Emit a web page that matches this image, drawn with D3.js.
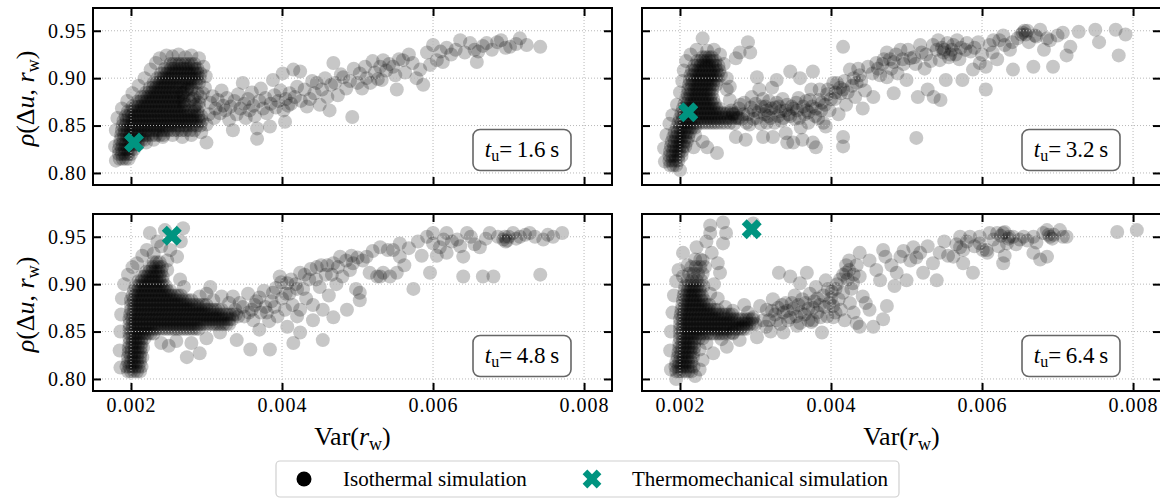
<!DOCTYPE html>
<html lang="en">
<head>
<meta charset="utf-8">
<title>Correlation vs variance</title>
<script src="https://d3js.org/d3.v7.min.js"></script>
<style>
  body { margin: 0; background: #fff; }
  svg { display: block; }
  svg text { font-family: "Liberation Serif", "Times New Roman", serif; }
</style>
</head>
<body>
<script>
const xTicks = [2, 4, 6, 8];
const yTicks = [0.80, 0.85, 0.90, 0.95];
const tuLabels = ["1.6", "3.2", "4.8", "6.4"];

// thermomechanical simulation, one point per panel
const thermoVar = [2.04, 2.11, 2.54, 2.95];
const thermoRho = [0.832, 0.864, 0.951, 0.958];

// isothermal runs, dense cores read as rows [rho, [Var...]]
// t_u = 1.6 s
const denseA = [
  [.815, [1.85, 1.89, 1.93, 1.97]],
  [.820, [1.84, 1.88, 1.92, 1.96, 2.0]],
  [.825, [1.84, 1.88, 1.92, 1.96, 2.0, 2.04]],
  [.830, [1.85, 1.89, 1.93, 1.97, 2.01, 2.05, 2.09]],
  [.835, [1.86, 1.9, 1.94, 1.98, 2.02, 2.06, 2.1, 2.14, 2.18]],
  [.840, [1.87, 1.91, 1.95, 1.99, 2.03, 2.07, 2.11, 2.15, 2.19, 2.23, 2.28, 2.33, 2.38, 2.43]],
  [.845, [1.88, 1.92, 1.96, 2.0, 2.04, 2.08, 2.12, 2.16, 2.2, 2.24, 2.28, 2.32, 2.36, 2.4, 2.44, 2.48, 2.52, 2.57, 2.62, 2.67, 2.72, 2.78, 2.84]],
  [.850, [1.89, 1.93, 1.97, 2.01, 2.05, 2.09, 2.13, 2.17, 2.21, 2.25, 2.29, 2.33, 2.37, 2.41, 2.45, 2.49, 2.53, 2.57, 2.61, 2.65, 2.69, 2.73, 2.77, 2.82, 2.87, 2.92]],
  [.855, [1.9, 1.94, 1.98, 2.02, 2.06, 2.1, 2.14, 2.18, 2.22, 2.26, 2.3, 2.34, 2.38, 2.42, 2.46, 2.5, 2.54, 2.58, 2.62, 2.66, 2.7, 2.74, 2.78, 2.82, 2.86, 2.9, 2.94]],
  [.860, [1.93, 1.97, 2.01, 2.05, 2.09, 2.13, 2.17, 2.21, 2.25, 2.29, 2.33, 2.37, 2.41, 2.45, 2.49, 2.53, 2.57, 2.61, 2.65, 2.69, 2.73, 2.77, 2.81, 2.85, 2.89, 2.93]],
  [.865, [1.96, 2.0, 2.04, 2.08, 2.12, 2.16, 2.2, 2.24, 2.28, 2.32, 2.36, 2.4, 2.44, 2.48, 2.52, 2.56, 2.6, 2.64, 2.68, 2.72, 2.76, 2.8, 2.84, 2.88]],
  [.870, [2.02, 2.06, 2.1, 2.14, 2.18, 2.22, 2.26, 2.3, 2.34, 2.38, 2.42, 2.46, 2.5, 2.54, 2.58, 2.62, 2.66, 2.7, 2.84, 2.9]],
  [.875, [2.08, 2.12, 2.16, 2.2, 2.24, 2.28, 2.32, 2.36, 2.4, 2.44, 2.48, 2.52, 2.56, 2.6, 2.64, 2.68]],
  [.880, [2.14, 2.18, 2.22, 2.26, 2.3, 2.34, 2.38, 2.42, 2.46, 2.5, 2.54, 2.58, 2.62, 2.66, 2.7]],
  [.885, [2.2, 2.24, 2.28, 2.32, 2.36, 2.4, 2.44, 2.48, 2.52, 2.56, 2.6, 2.65, 2.7]],
  [.890, [2.25, 2.29, 2.33, 2.37, 2.41, 2.45, 2.49, 2.53, 2.57, 2.61, 2.65, 2.7, 2.75, 2.8]],
  [.895, [2.3, 2.34, 2.38, 2.42, 2.46, 2.5, 2.54, 2.58, 2.62, 2.66, 2.7, 2.74, 2.78, 2.82, 2.86, 2.9]],
  [.900, [2.35, 2.39, 2.43, 2.47, 2.51, 2.55, 2.59, 2.63, 2.67, 2.71, 2.75, 2.79, 2.83, 2.87, 2.91]],
  [.905, [2.4, 2.44, 2.48, 2.52, 2.56, 2.6, 2.64, 2.68, 2.72, 2.76, 2.8, 2.84, 2.88, 2.92]],
  [.910, [2.45, 2.49, 2.53, 2.57, 2.61, 2.65, 2.69, 2.73, 2.77, 2.81, 2.85, 2.88]],
  [.915, [2.52, 2.56, 2.6, 2.64, 2.68, 2.72, 2.76, 2.8, 2.84]]
];
const looseA = [
  [1.8, .813], [1.79, .828], [1.8, .845], [1.82, .858], [1.88, .868], [1.95, .876], [2.02, .884], [2.1, .892],
  [2.18, .9], [2.26, .909], [2.33, .916], [2.38, .921], [2.47, .924], [2.55, .923], [2.63, .925], [2.72, .922],
  [2.8, .924], [2.9, .921], [2.96, .912], [2.99, .902], [2.98, .89], [2.2, .832], [2.3, .835], [2.42, .838],
  [2.55, .84], [2.68, .838], [2.8, .84], [2.93, .843], [3.0, .851],
  [2.7, .876], [2.76, .882], [2.82, .878], [2.88, .884], [2.74, .888], [2.86, .872], [2.92, .88], [2.68, .884],
  [2.78, .876], [2.84, .88], [2.9, .874], [2.8, .888], [2.72, .872], [2.95, .884],
  [3.0, .832], [3.03, .862], [3.05, .874], [3.08, .881], [3.1, .858], [3.12, .868], [3.15, .877], [3.18, .863],
  [3.2, .887], [3.22, .871], [3.25, .866], [3.27, .879], [3.3, .856], [3.32, .87], [3.35, .845], [3.37, .876],
  [3.4, .862], [3.42, .883], [3.45, .868], [3.48, .895], [3.5, .873], [3.52, .858], [3.55, .878], [3.57, .866],
  [3.6, .885], [3.62, .871], [3.64, .86], [3.67, .847], [3.67, .836], [3.7, .876], [3.72, .889], [3.75, .868],
  [3.78, .879], [3.8, .863], [3.84, .849], [3.85, .873], [3.88, .898], [3.9, .882], [3.92, .869], [3.95, .876],
  [3.98, .887], [4.01, .905], [4.02, .866], [4.04, .854], [4.05, .878], [4.08, .871], [4.1, .884], [4.12, .873],
  [4.15, .909], [4.17, .88], [4.2, .891],
  [4.24, .907], [4.25, .876], [4.3, .888], [4.33, .87], [4.37, .878], [4.4, .897], [4.43, .884], [4.46, .895],
  [4.5, .872], [4.53, .888], [4.57, .9], [4.6, .88], [4.63, .866], [4.65, .893], [4.68, .916], [4.7, .895],
  [4.74, .882], [4.78, .904], [4.81, .901], [4.85, .889], [4.9, .897], [4.93, .859], [4.95, .91], [5.0, .895],
  [5.03, .905], [5.06, .889], [5.1, .912], [5.12, .9], [5.17, .895], [5.2, .918], [5.23, .906], [5.27, .899],
  [5.3, .912], [5.32, .898], [5.34, .919], [5.38, .908], [5.42, .915], [5.47, .912], [5.5, .903], [5.52, .888],
  [5.55, .92],
  [5.6, .919], [5.63, .906], [5.68, .925], [5.73, .916], [5.78, .9], [5.83, .909], [5.87, .893], [5.92, .927],
  [5.96, .914], [6.0, .935], [6.05, .919], [6.1, .928], [6.13, .917], [6.18, .932], [6.24, .925], [6.3, .93],
  [6.36, .94], [6.42, .927], [6.49, .937], [6.55, .93], [6.58, .917], [6.6, .928], [6.66, .934], [6.71, .937],
  [6.78, .93], [6.85, .938], [6.9, .94], [6.96, .932], [7.02, .933], [7.1, .936], [7.15, .942], [7.24, .935],
  [7.42, .933]
];

// t_u = 3.2 s
const denseB = [
  [.808, [1.87, 1.91, 1.95]],
  [.813, [1.86, 1.9, 1.94, 1.98]],
  [.818, [1.86, 1.9, 1.94, 1.98, 2.02]],
  [.823, [1.87, 1.91, 1.95, 1.99, 2.03]],
  [.828, [1.88, 1.92, 1.96, 2.0, 2.04, 2.07]],
  [.833, [1.89, 1.93, 1.97, 2.01, 2.05, 2.09]],
  [.838, [1.91, 1.95, 1.99, 2.03, 2.07, 2.11]],
  [.843, [1.93, 1.97, 2.01, 2.05, 2.09, 2.13]],
  [.848, [1.96, 2.0, 2.04, 2.08, 2.12, 2.16, 2.2]],
  [.853, [1.98, 2.02, 2.06, 2.1, 2.14, 2.18, 2.22, 2.26, 2.3, 2.34, 2.38, 2.42, 2.46, 2.5, 2.55, 2.6, 2.66]],
  [.858, [2.0, 2.04, 2.08, 2.12, 2.16, 2.2, 2.24, 2.28, 2.32, 2.36, 2.4, 2.44, 2.48, 2.52, 2.56, 2.6, 2.64, 2.68, 2.73, 2.78]],
  [.863, [2.02, 2.06, 2.1, 2.14, 2.18, 2.22, 2.26, 2.3, 2.34, 2.38, 2.42, 2.46, 2.5, 2.54, 2.58, 2.62, 2.66, 2.7, 2.74]],
  [.868, [2.04, 2.08, 2.12, 2.16, 2.2, 2.24, 2.28, 2.32, 2.36, 2.4, 2.44, 2.48, 2.52]],
  [.873, [2.06, 2.1, 2.14, 2.18, 2.22, 2.26, 2.3, 2.34, 2.38, 2.42, 2.46]],
  [.878, [2.08, 2.12, 2.16, 2.2, 2.24, 2.28, 2.32, 2.36, 2.4, 2.44]],
  [.883, [2.1, 2.14, 2.18, 2.22, 2.26, 2.3, 2.34, 2.38, 2.42]],
  [.888, [2.11, 2.15, 2.19, 2.23, 2.27, 2.31, 2.35, 2.39, 2.43]],
  [.893, [2.12, 2.16, 2.2, 2.24, 2.28, 2.32, 2.36, 2.4, 2.44, 2.48]],
  [.898, [2.13, 2.17, 2.21, 2.25, 2.29, 2.33, 2.37, 2.41, 2.45, 2.5]],
  [.903, [2.14, 2.18, 2.22, 2.26, 2.3, 2.34, 2.38, 2.42, 2.46, 2.5, 2.54]],
  [.908, [2.16, 2.2, 2.24, 2.28, 2.32, 2.36, 2.4, 2.44, 2.48, 2.52]],
  [.913, [2.19, 2.23, 2.27, 2.31, 2.35, 2.39, 2.43, 2.47, 2.51]],
  [.918, [2.23, 2.27, 2.31, 2.35, 2.39, 2.43, 2.47]],
  [.922, [2.3, 2.34, 2.38, 2.42]]
];
const looseB = [
  [1.8, .812], [1.79, .826], [1.82, .84], [1.86, .852], [1.9, .861], [1.96, .872], [2.0, .885], [2.03, .897],
  [2.05, .908], [2.08, .918], [2.14, .925], [2.22, .93], [2.3, .942], [2.36, .929], [2.45, .93], [2.53, .925],
  [2.58, .915], [2.62, .9], [2.62, .888], [2.79, .927], [2.9, .938], [2.93, .927], [2.74, .921], [2.2, .84],
  [2.3, .833], [2.36, .827], [2.49, .821], [2.18, .827], [2.0, .803],
  [2.66, .877], [2.66, .891], [2.7, .862], [2.72, .852], [2.74, .838], [2.78, .868], [2.82, .857], [2.85, .874],
  [2.87, .835], [2.9, .862], [2.92, .851], [2.95, .88], [2.98, .866], [3.02, .901], [3.02, .858], [3.05, .888],
  [3.08, .87], [3.1, .838], [3.12, .862], [3.15, .866], [3.15, .853], [3.18, .876], [3.2, .858], [3.22, .89],
  [3.23, .838], [3.26, .869], [3.28, .898], [3.3, .86], [3.31, .87], [3.34, .855], [3.36, .878], [3.4, .866],
  [3.4, .842], [3.42, .832], [3.44, .862], [3.46, .907], [3.48, .87], [3.5, .832], [3.52, .857], [3.55, .866],
  [3.57, .879], [3.59, .9], [3.6, .848], [3.62, .835], [3.65, .862], [3.68, .866], [3.7, .853], [3.72, .877],
  [3.74, .888], [3.76, .907], [3.76, .832], [3.8, .827], [3.8, .868], [3.83, .858], [3.85, .888], [3.88, .874],
  [3.9, .853], [3.93, .849], [3.95, .883], [3.98, .866], [4.03, .895], [4.05, .878], [4.08, .895], [4.1, .862],
  [4.13, .884], [4.16, .888], [4.16, .838], [4.16, .828], [4.2, .872], [4.25, .909], [4.28, .892], [4.32, .88],
  [4.34, .895], [4.38, .903], [4.42, .868], [4.45, .887],
  [2.68, .866], [2.76, .858], [2.8, .872], [2.84, .862], [2.88, .853], [2.94, .869], [2.97, .857], [3.0, .873],
  [3.04, .864], [3.07, .852], [3.1, .878], [3.13, .87], [3.17, .86], [3.21, .868], [3.25, .853], [3.28, .874],
  [3.33, .865], [3.37, .858], [3.42, .872], [3.46, .86], [3.5, .868], [3.54, .874], [3.58, .858], [3.63, .87],
  [3.67, .876], [3.7, .864], [3.75, .87], [3.79, .86], [3.84, .877], [3.87, .866], [3.92, .872], [3.96, .888],
  [4.0, .878], [4.06, .885], [4.12, .89], [4.18, .897], [4.22, .885], [4.3, .9], [4.36, .91], [4.4, .897],
  [4.16, .933], [4.49, .912], [4.56, .88], [4.6, .916], [4.65, .903], [4.7, .92], [4.74, .901], [4.74, .927],
  [4.8, .91], [4.83, .917], [4.83, .884], [4.88, .905], [4.92, .93], [4.96, .915], [5.0, .898], [5.05, .921],
  [5.1, .922], [5.13, .837], [5.15, .88], [5.2, .927], [5.24, .91], [5.28, .888], [5.32, .918], [5.36, .88],
  [5.4, .93], [5.44, .919], [5.45, .877], [5.47, .932], [5.49, .927], [5.5, .93], [5.52, .898], [5.54, .937],
  [5.56, .922], [5.58, .925], [5.6, .93], [5.62, .935], [5.65, .925], [5.67, .94], [5.7, .92], [5.72, .932],
  [5.74, .898], [5.8, .937], [5.85, .928], [5.88, .909], [5.9, .932], [5.97, .916], [6.05, .912], [6.05, .888],
  [6.1, .935], [6.14, .927], [6.2, .92], [6.23, .94], [6.3, .935], [6.37, .93], [6.41, .909], [6.47, .942],
  [6.52, .946], [6.54, .948], [6.56, .95], [6.58, .946], [6.62, .938], [6.68, .912], [6.72, .944], [6.77, .951],
  [6.82, .93], [6.86, .942], [6.9, .94], [6.94, .912], [7.0, .945], [7.07, .948], [7.12, .924], [7.17, .933],
  [7.28, .949], [7.5, .951], [7.55, .938], [7.77, .951], [7.81, .924], [7.9, .946],
  [4.55, .905], [4.62, .91], [4.68, .915], [4.78, .92], [4.86, .925], [4.95, .92], [5.02, .93], [5.12, .915],
  [5.18, .935], [5.26, .925], [5.35, .935], [5.42, .94], [5.78, .93], [5.95, .938], [6.0, .925], [6.15, .94],
  [6.28, .945], [6.4, .938], [6.6, .95], [6.7, .945]
];

// t_u = 4.8 s
const denseC = [
  [.808, [1.96, 2.0, 2.04, 2.08, 2.12]],
  [.813, [1.94, 1.98, 2.02, 2.06, 2.1, 2.14]],
  [.818, [1.96, 2.0, 2.04, 2.08, 2.12]],
  [.823, [1.96, 2.0, 2.04, 2.08, 2.12, 2.15]],
  [.828, [1.97, 2.01, 2.05, 2.09, 2.13]],
  [.833, [1.97, 2.01, 2.05, 2.09, 2.13, 2.16]],
  [.838, [1.98, 2.02, 2.06, 2.1, 2.14]],
  [.843, [1.98, 2.02, 2.06, 2.1, 2.14, 2.18]],
  [.848, [1.98, 2.02, 2.06, 2.1, 2.14, 2.18, 2.22, 2.26, 2.3]],
  [.853, [1.98, 2.02, 2.06, 2.1, 2.14, 2.18, 2.22, 2.26, 2.3, 2.34, 2.38, 2.42, 2.46, 2.5, 2.54, 2.58, 2.62, 2.66, 2.7, 2.74, 2.78, 2.82, 2.86, 2.9]],
  [.858, [1.98, 2.02, 2.06, 2.1, 2.14, 2.18, 2.22, 2.26, 2.3, 2.34, 2.38, 2.42, 2.46, 2.5, 2.54, 2.58, 2.62, 2.66, 2.7, 2.74, 2.78, 2.82, 2.86, 2.9, 2.94, 2.98, 3.02, 3.06, 3.1, 3.14, 3.18, 3.22, 3.26, 3.3]],
  [.863, [1.98, 2.02, 2.06, 2.1, 2.14, 2.18, 2.22, 2.26, 2.3, 2.34, 2.38, 2.42, 2.46, 2.5, 2.54, 2.58, 2.62, 2.66, 2.7, 2.74, 2.78, 2.82, 2.86, 2.9, 2.94, 2.98, 3.02, 3.06, 3.1, 3.14, 3.18, 3.22, 3.26, 3.3, 3.34]],
  [.868, [1.99, 2.03, 2.07, 2.11, 2.15, 2.19, 2.23, 2.27, 2.31, 2.35, 2.39, 2.43, 2.47, 2.51, 2.55, 2.59, 2.63, 2.67, 2.71, 2.75, 2.79, 2.83, 2.87, 2.91, 2.95, 2.99, 3.03, 3.07, 3.11, 3.15, 3.19, 3.23, 3.27, 3.31, 3.35, 3.39]],
  [.873, [2.0, 2.04, 2.08, 2.12, 2.16, 2.2, 2.24, 2.28, 2.32, 2.36, 2.4, 2.44, 2.48, 2.52, 2.56, 2.6, 2.64, 2.68, 2.72, 2.76, 2.8, 2.84, 2.88, 2.92, 2.96, 3.0, 3.04, 3.08, 3.12, 3.16, 3.2]],
  [.878, [2.0, 2.04, 2.08, 2.12, 2.16, 2.2, 2.24, 2.28, 2.32, 2.36, 2.4, 2.44, 2.48, 2.52, 2.56, 2.6, 2.64, 2.68, 2.72, 2.76, 2.8, 2.84, 2.88, 2.92, 2.96, 3.0]],
  [.883, [2.0, 2.04, 2.08, 2.12, 2.16, 2.2, 2.24, 2.28, 2.32, 2.36, 2.4, 2.44, 2.48, 2.52, 2.56, 2.6, 2.64, 2.68, 2.72, 2.76, 2.8]],
  [.888, [2.02, 2.06, 2.1, 2.14, 2.18, 2.22, 2.26, 2.3, 2.34, 2.38, 2.42, 2.46, 2.5, 2.54, 2.58, 2.62, 2.66]],
  [.893, [2.04, 2.08, 2.12, 2.16, 2.2, 2.24, 2.28, 2.32, 2.36, 2.4, 2.44, 2.48, 2.52]],
  [.898, [2.06, 2.1, 2.14, 2.18, 2.22, 2.26, 2.3, 2.34, 2.38, 2.42, 2.46]],
  [.903, [2.1, 2.14, 2.18, 2.22, 2.26, 2.3, 2.34, 2.38, 2.42]],
  [.908, [2.14, 2.18, 2.22, 2.26, 2.3, 2.34, 2.38, 2.42]],
  [.913, [2.2, 2.24, 2.28, 2.32, 2.36, 2.4]],
  [.918, [2.25, 2.29, 2.33, 2.37, 2.41]],
  [.923, [2.3, 2.34, 2.38]]
];
const looseC = [
  [1.86, .812], [1.85, .83], [1.86, .85], [1.87, .868], [1.88, .885], [1.91, .9], [1.96, .91], [2.02, .918],
  [2.08, .922], [2.21, .936], [2.25, .954], [2.69, .959], [2.66, .945], [2.61, .929], [2.48, .925], [2.65, .905],
  [2.48, .915], [2.35, .945], [2.45, .957], [2.3, .932], [2.4, .94], [2.52, .936], [2.15, .93], [2.7, .897],
  [2.74, .823], [2.91, .827], [3.18, .849], [3.4, .841], [3.58, .831], [3.84, .831], [4.15, .838], [2.5, .835],
  [2.6, .84], [2.4, .838], [2.8, .838], [3.0, .843], [3.05, .897], [2.91, .887], [3.0, .89],
  [3.09, .883], [3.2, .887], [3.3, .88], [3.35, .887], [3.38, .873], [3.44, .88], [3.5, .866], [3.55, .89],
  [3.6, .873], [3.62, .862], [3.66, .882], [3.7, .852], [3.72, .87], [3.76, .893], [3.8, .87], [3.83, .861],
  [3.88, .891], [3.9, .876], [3.94, .866], [3.97, .908], [4.0, .885], [4.04, .873], [4.07, .901], [4.07, .855],
  [4.1, .89], [4.14, .878], [4.18, .9], [4.2, .866], [4.24, .912], [4.24, .873], [4.24, .849], [4.28, .895],
  [4.32, .885], [4.36, .905], [4.41, .862], [4.41, .878], [4.46, .918], [4.5, .897], [4.54, .873], [4.54, .841],
  [4.58, .91], [4.62, .888], [4.68, .922], [4.68, .865], [4.72, .9], [4.77, .929], [4.8, .908], [4.86, .873],
  [4.9, .915], [4.94, .922], [4.98, .895], [5.03, .891], [5.03, .883], [5.07, .925], [5.12, .929], [5.16, .912],
  [5.2, .935], [5.26, .908], [5.3, .939], [5.3, .908],
  [3.42, .866], [3.48, .876], [3.56, .87], [3.64, .878], [3.7, .886], [3.78, .876], [3.86, .882], [3.92, .896],
  [3.99, .902], [4.05, .89], [4.12, .905], [4.2, .895], [4.3, .91], [4.38, .916], [4.45, .905], [4.52, .92],
  [4.6, .92], [4.66, .91], [4.74, .918], [4.85, .925], [4.92, .93], [5.0, .928],
  [5.34, .912], [5.4, .936], [5.43, .908], [5.47, .936], [5.52, .912], [5.56, .943], [5.56, .929], [5.62, .92],
  [5.68, .938], [5.74, .895], [5.8, .945], [5.85, .93], [5.92, .95], [5.96, .912], [6.0, .954], [6.0, .943],
  [6.05, .93], [6.09, .939], [6.14, .947], [6.18, .954], [6.18, .933], [6.25, .945], [6.32, .947], [6.36, .94],
  [6.4, .929], [6.45, .954], [6.4, .908], [6.5, .95], [6.55, .942], [6.62, .939], [6.66, .908], [6.7, .948],
  [6.75, .954], [6.8, .908], [6.86, .95], [6.93, .947], [6.95, .95], [6.96, .945], [6.98, .946], [7.0, .95],
  [7.06, .954], [7.1, .948], [7.15, .95], [7.22, .952], [7.28, .954], [7.35, .95], [7.42, .91], [7.46, .947],
  [7.52, .952], [7.59, .95], [7.71, .954]
];

// t_u = 6.4 s
const denseD = [
  [.808, [1.95, 1.99, 2.03, 2.07, 2.11, 2.15]],
  [.813, [1.94, 1.98, 2.02, 2.06, 2.1, 2.14, 2.18]],
  [.818, [1.95, 1.99, 2.03, 2.07, 2.11, 2.15]],
  [.823, [1.97, 2.01, 2.05, 2.09, 2.13, 2.17]],
  [.828, [1.98, 2.02, 2.06, 2.1, 2.14, 2.18]],
  [.833, [1.99, 2.03, 2.07, 2.11, 2.15, 2.19]],
  [.838, [1.99, 2.03, 2.07, 2.11, 2.15, 2.19]],
  [.843, [2.0, 2.04, 2.08, 2.12, 2.16, 2.2, 2.25, 2.3]],
  [.848, [2.0, 2.04, 2.08, 2.12, 2.16, 2.2, 2.24, 2.28, 2.32, 2.36, 2.4, 2.44, 2.48, 2.52, 2.56, 2.6, 2.65, 2.7]],
  [.853, [2.0, 2.04, 2.08, 2.12, 2.16, 2.2, 2.24, 2.28, 2.32, 2.36, 2.4, 2.44, 2.48, 2.52, 2.56, 2.6, 2.64, 2.68, 2.72, 2.76, 2.8, 2.84, 2.88]],
  [.858, [2.0, 2.04, 2.08, 2.12, 2.16, 2.2, 2.24, 2.28, 2.32, 2.36, 2.4, 2.44, 2.48, 2.52, 2.56, 2.6, 2.64, 2.68, 2.72, 2.76, 2.8, 2.84, 2.88, 2.92, 2.96, 3.0]],
  [.863, [2.0, 2.04, 2.08, 2.12, 2.16, 2.2, 2.24, 2.28, 2.32, 2.36, 2.4, 2.44, 2.48, 2.52, 2.56, 2.6, 2.64, 2.68, 2.72, 2.76, 2.8, 2.84, 2.88, 2.92, 2.96]],
  [.868, [2.01, 2.05, 2.09, 2.13, 2.17, 2.21, 2.25, 2.29, 2.33, 2.37, 2.41, 2.45, 2.49, 2.53, 2.57, 2.61, 2.65, 2.69]],
  [.873, [2.02, 2.06, 2.1, 2.14, 2.18, 2.22, 2.26, 2.3, 2.34, 2.38, 2.42, 2.46, 2.5]],
  [.878, [2.03, 2.07, 2.11, 2.15, 2.19, 2.23, 2.27, 2.31, 2.35, 2.39]],
  [.883, [2.04, 2.08, 2.12, 2.16, 2.2, 2.24, 2.28, 2.32]],
  [.888, [2.05, 2.09, 2.13, 2.17, 2.21, 2.25, 2.29]],
  [.893, [2.06, 2.1, 2.14, 2.18, 2.22, 2.26]],
  [.898, [2.07, 2.11, 2.15, 2.19, 2.23, 2.27, 2.31]],
  [.904, [2.1, 2.16, 2.22, 2.28]],
  [.911, [2.12, 2.18, 2.24, 2.3]],
  [.918, [2.15, 2.21, 2.27, 2.33]],
  [.926, [2.2, 2.27]]
];
const looseD = [
  [1.88, .81], [1.87, .83], [1.88, .85], [1.9, .87], [1.92, .888], [1.95, .903], [1.98, .915], [2.04, .933],
  [2.22, .939], [2.4, .962], [2.57, .965], [2.4, .954], [2.61, .954], [2.57, .943], [2.42, .933], [2.53, .912],
  [2.04, .908], [2.45, .9], [2.5, .922], [2.35, .945], [2.3, .925], [2.1, .92], [2.97, .964], [1.95, .8],
  [2.2, .803], [2.26, .81], [2.3, .82],
  [2.26, .831], [2.44, .827], [2.62, .834], [2.7, .849], [2.79, .841], [2.83, .855], [2.97, .865], [3.02, .844],
  [3.06, .877], [3.15, .873], [2.6, .876], [2.7, .872], [2.5, .885], [2.4, .89], [2.9, .87], [2.85, .878],
  [2.55, .842], [2.35, .838],
  [3.18, .862], [3.2, .85], [3.23, .884], [3.26, .868], [3.3, .875], [3.31, .912], [3.33, .858], [3.37, .87],
  [3.37, .849], [3.4, .88], [3.43, .862], [3.46, .865], [3.46, .908], [3.5, .874], [3.52, .888], [3.55, .856],
  [3.57, .878], [3.59, .859], [3.59, .901], [3.62, .884], [3.65, .868], [3.68, .912], [3.7, .874], [3.72, .89],
  [3.74, .86], [3.76, .862], [3.78, .882], [3.8, .897], [3.82, .87], [3.85, .878], [3.88, .849], [3.9, .888],
  [3.93, .904], [3.95, .866], [3.98, .88], [4.01, .892], [4.03, .877], [4.03, .865], [4.06, .87], [4.08, .9],
  [4.1, .884], [4.13, .873], [4.16, .891], [4.18, .862], [4.2, .912], [4.2, .92], [4.22, .905], [4.25, .88],
  [4.27, .895], [4.29, .901], [4.3, .87], [4.34, .859], [4.38, .908], [4.38, .855],
  [3.1, .862], [3.14, .855], [3.22, .872], [3.28, .862], [3.35, .878], [3.42, .872], [3.48, .88], [3.54, .866],
  [3.6, .87], [3.66, .88], [3.7, .862], [3.76, .875], [3.82, .885], [3.86, .865], [3.92, .876], [3.96, .895],
  [4.0, .885], [4.06, .895], [4.12, .905], [4.16, .91], [4.24, .915], [4.3, .91], [4.34, .92], [4.24, .925],
  [4.38, .933], [4.42, .887], [4.46, .88], [4.51, .925], [4.51, .873], [4.56, .855], [4.6, .915], [4.65, .904],
  [4.69, .936], [4.69, .863], [4.72, .929], [4.74, .877], [4.8, .92], [4.84, .898], [4.87, .912], [4.92, .929],
  [4.96, .935], [5.0, .904], [5.05, .925], [5.09, .939], [5.13, .928], [5.18, .933], [5.22, .912], [5.28, .94],
  [5.35, .922], [5.4, .904], [5.44, .933], [5.5, .945], [5.55, .93], [5.62, .929], [5.66, .942], [5.71, .939],
  [5.71, .95], [5.75, .936], [5.75, .922], [5.8, .945], [5.84, .95], [5.88, .912], [5.9, .94], [5.97, .95],
  [5.97, .943], [6.01, .936], [6.06, .936], [6.07, .933], [6.1, .954], [6.15, .947], [6.2, .954], [6.22, .94],
  [6.25, .951], [6.28, .954], [6.28, .922], [6.3, .93], [6.3, .955], [6.33, .943], [6.35, .948], [6.36, .95],
  [6.41, .95], [6.45, .942], [6.5, .947], [6.55, .95], [6.6, .946], [6.68, .95], [6.68, .933], [6.72, .944],
  [6.77, .926], [6.81, .954], [6.86, .929], [6.86, .957], [6.88, .952], [6.9, .95], [6.93, .948], [6.95, .952],
  [7.03, .957], [7.07, .95], [7.12, .95], [7.79, .955], [8.05, .957]
];

const panels = [
  { dense: denseA, loose: looseA },
  { dense: denseB, loose: looseB },
  { dense: denseC, loose: looseC },
  { dense: denseD, loose: looseD }
];

// Layout
const W = 1160, H = 498;
const cols = [[93, 612], [642, 1161]];
const rows = [[8, 185], [214, 391]];
const xDomain = [1.497, 8.37];
const yDomain = [0.7873, 0.974];
const green = "#009480";

const svg = d3.select("body").append("svg")
  .attr("width", W).attr("height", H)
  .attr("viewBox", [0, 0, W, H]);

panels.forEach(function(p, i) {
  const c = i % 2, r = Math.floor(i / 2);
  const x = d3.scaleLinear().domain(xDomain).range(cols[c]);
  const y = d3.scaleLinear().domain(yDomain).range([rows[r][1], rows[r][0]]);
  const [x0, x1] = cols[c], [y0, y1] = rows[r];

  svg.append("clipPath").attr("id", "clip" + i)
    .append("rect").attr("x", x0).attr("y", y0).attr("width", x1 - x0).attr("height", y1 - y0);

  const g = svg.append("g");

  // Isothermal scatter
  const pts = p.dense.flatMap(function(row) {
    return row[1].map(function(v) { return [v, row[0]]; });
  }).concat(p.loose);
  g.append("g").attr("clip-path", "url(#clip" + i + ")")
    .selectAll("circle")
    .data(pts)
    .join("circle")
    .attr("cx", function(d) { return x(d[0]); })
    .attr("cy", function(d) { return y(d[1]); })
    .attr("r", 7)
    .attr("fill", "#000")
    .attr("fill-opacity", 0.22);

  // Grid (drawn over the points)
  const grid = g.append("g").attr("stroke", "#b8b8b8").attr("stroke-width", 1).attr("stroke-dasharray", "1,2");
  grid.selectAll("line.gx").data(xTicks).join("line").attr("class", "gx")
    .attr("x1", function(d) { return x(d); }).attr("x2", function(d) { return x(d); })
    .attr("y1", y0).attr("y2", y1);
  grid.selectAll("line.gy").data(yTicks).join("line").attr("class", "gy")
    .attr("x1", x0).attr("x2", x1)
    .attr("y1", function(d) { return y(d); }).attr("y2", function(d) { return y(d); });

  // Thermomechanical point
  g.append("path")
    .attr("d", d3.symbol(d3.symbolCross, 250)())
    .attr("transform", "translate(" + x(thermoVar[i]) + "," + y(thermoRho[i]) + ") rotate(45)")
    .attr("fill", green);

  // Axes with inward ticks on all four sides
  const fmtX = function(d) { return (d / 1000).toFixed(3); };
  const bottom = g.append("g").attr("transform", "translate(0," + y1 + ")")
    .call(d3.axisBottom(x).tickValues(xTicks).tickSize(-8).tickPadding(7)
      .tickFormat(r === 1 ? fmtX : function() { return ""; }));
  const top = g.append("g").attr("transform", "translate(0," + y0 + ")")
    .call(d3.axisTop(x).tickValues(xTicks).tickSize(-8).tickFormat(function() { return ""; }));
  const left = g.append("g").attr("transform", "translate(" + x0 + ",0)")
    .call(d3.axisLeft(y).tickValues(yTicks).tickSize(-8).tickPadding(6)
      .tickFormat(c === 0 ? d3.format(".2f") : function() { return ""; }));
  const right = g.append("g").attr("transform", "translate(" + x1 + ",0)")
    .call(d3.axisRight(y).tickValues(yTicks).tickSize(-8).tickFormat(function() { return ""; }));
  [bottom, top, left, right].forEach(function(a) {
    a.select(".domain").remove();
    a.selectAll(".tick line").attr("stroke", "#000").attr("stroke-width", 2);
    a.selectAll(".tick text").attr("fill", "#000").attr("font-size", 20).attr("letter-spacing", 1);
  });

  g.append("rect").attr("x", x0).attr("y", y0).attr("width", x1 - x0).attr("height", y1 - y0)
    .attr("fill", "none").attr("stroke", "#000").attr("stroke-width", 2);

  // t_u label box
  const bw = 98, bh = 41;
  const bx = x1 - 41 - bw, by = y1 - 14.5 - bh;
  g.append("rect").attr("x", bx).attr("y", by).attr("width", bw).attr("height", bh)
    .attr("rx", 7).attr("fill", "#fff").attr("fill-opacity", 0.9)
    .attr("stroke", "#666").attr("stroke-width", 1.6);
  const t = g.append("text").attr("x", bx + bw / 2).attr("y", by + 27)
    .attr("text-anchor", "middle").attr("font-size", 23);
  t.append("tspan").attr("font-style", "italic").text("t");
  t.append("tspan").attr("font-size", 16).attr("dy", 4).text("u");
  t.append("tspan").attr("dy", -4).text("=\u2009" + tuLabels[i] + "\u2009s");

  // y label on left column
  if (c === 0) {
    const yl = svg.append("text")
      .attr("transform", "translate(34," + ((y0 + y1) / 2 + 2) + ") rotate(-90)")
      .attr("text-anchor", "middle").attr("font-size", 26);
    yl.append("tspan").attr("font-style", "italic").text("\u03c1");
    yl.append("tspan").text("(\u0394");
    yl.append("tspan").attr("font-style", "italic").text("u");
    yl.append("tspan").text(", ");
    yl.append("tspan").attr("font-style", "italic").text("r");
    yl.append("tspan").attr("font-size", 18).attr("dy", 5).text("w");
    yl.append("tspan").attr("dy", -5).text(")");
  }
  // x label on bottom row
  if (r === 1) {
    const xl = svg.append("text")
      .attr("x", (x0 + x1) / 2).attr("y", 445)
      .attr("text-anchor", "middle").attr("font-size", 26);
    xl.append("tspan").text("Var(");
    xl.append("tspan").attr("font-style", "italic").text("r");
    xl.append("tspan").attr("font-size", 18).attr("dy", 5).text("w");
    xl.append("tspan").attr("dy", -5).text(")");
  }
});

// Legend
const leg = svg.append("g");
leg.append("rect").attr("x", 276).attr("y", 461).attr("width", 623).attr("height", 36)
  .attr("rx", 4).attr("fill", "#fff").attr("stroke", "#d0d0d0").attr("stroke-width", 1.2);
leg.append("circle").attr("cx", 304).attr("cy", 479).attr("r", 7.5).attr("fill", "#000");
leg.append("text").attr("x", 343).attr("y", 486).attr("font-size", 21).text("Isothermal simulation");
leg.append("path")
  .attr("d", d3.symbol(d3.symbolCross, 220)())
  .attr("transform", "translate(592,479) rotate(45)")
  .attr("fill", green);
leg.append("text").attr("x", 632).attr("y", 486).attr("font-size", 21).text("Thermomechanical simulation");
</script>
</body>
</html>
